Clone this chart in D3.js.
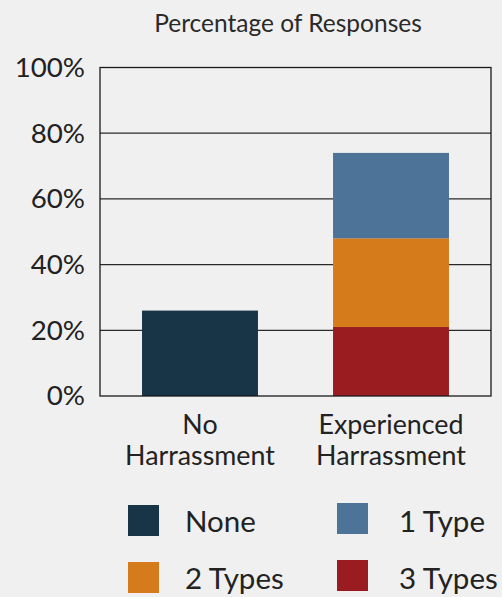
<!DOCTYPE html>
<html>
<head>
<meta charset="utf-8">
<script src="https://cdn.jsdelivr.net/npm/d3@7"></script>
<style>
  html, body { margin: 0; padding: 0; background: #f0f0f0; }
  svg { display: block; font-family: "Lato", "Open Sans", sans-serif; }
  svg text { font-weight: 400; }
</style>
</head>
<body>
<svg id="chart" width="502" height="597"></svg>
<script>
// Share of responses by harassment group (percent)
const categories = ["No Harrassment", "Experienced Harrassment"];
const categoryLines = [["No", "Harrassment"], ["Experienced", "Harrassment"]];
const seriesNames = ["None", "3 Types", "2 Types", "1 Type"];
const seriesValues = {
  "None":    [26, 0],
  "3 Types": [0, 21],
  "2 Types": [0, 27],
  "1 Type":  [0, 26]
};
const tickValues = [0, 20, 40, 60, 80, 100];
const tickLabels = ["0%", "20%", "40%", "60%", "80%", "100%"];
const legendOrder = ["None", "1 Type", "2 Types", "3 Types"];
const colors = {
  "None": "#183548",
  "1 Type": "#4e7398",
  "2 Types": "#d57b1c",
  "3 Types": "#9b1c20"
};

const svg = d3.select("#chart");
const plot = { left: 100, right: 491, top: 67.5, bottom: 396 };

const x = d3.scaleBand()
  .domain(categories)
  .range([plot.left, plot.right])
  .paddingInner(0.393)
  .paddingOuter(0.22);

const y = d3.scaleLinear()
  .domain([0, 100])
  .range([plot.bottom, plot.top]);

// Title
svg.append("text")
  .attr("x", 288)
  .attr("y", 31.5)
  .attr("text-anchor", "middle")
  .attr("font-size", 24.5)
  .attr("fill", "#2a2a2a")
  .text("Percentage of Responses");

// Gridlines
svg.append("g")
  .selectAll("line")
  .data(tickValues.filter(v => v > 0 && v < 100))
  .join("line")
  .attr("x1", plot.left).attr("x2", plot.right)
  .attr("y1", d => y(d)).attr("y2", d => y(d))
  .attr("stroke", "#2a2a2a")
  .attr("stroke-width", 1.3);

// Stacked bars
const table = categories.map((c, i) => {
  const row = { category: c };
  seriesNames.forEach(s => { row[s] = seriesValues[s][i]; });
  return row;
});
const stacked = d3.stack().keys(seriesNames)(table);

svg.append("g")
  .selectAll("g")
  .data(stacked)
  .join("g")
  .attr("fill", d => colors[d.key])
  .selectAll("rect")
  .data(d => d.filter(p => p[1] > p[0]))
  .join("rect")
  .attr("x", d => x(d.data.category))
  .attr("width", x.bandwidth())
  .attr("y", d => y(d[1]))
  .attr("height", d => y(d[0]) - y(d[1]));

// Plot frame
svg.append("rect")
  .attr("x", plot.left).attr("y", plot.top)
  .attr("width", plot.right - plot.left)
  .attr("height", plot.bottom - plot.top)
  .attr("fill", "none")
  .attr("stroke", "#1a1a1a")
  .attr("stroke-width", 1.3);

// Y axis labels
const yAxis = d3.axisLeft(y)
  .tickValues(tickValues)
  .tickFormat((d, i) => tickLabels[i])
  .tickSize(0)
  .tickPadding(15);
const gy = svg.append("g")
  .attr("transform", `translate(${plot.left},0)`)
  .call(yAxis);
gy.select(".domain").remove();
gy.selectAll("text")
  .attr("font-family", "Lato, sans-serif")
  .attr("font-size", 27.7)
  .attr("fill", "#222");

// Category labels
const cat = svg.append("g");
categories.forEach((c, i) => {
  const t = cat.append("text")
    .attr("x", x(c) + x.bandwidth() / 2)
    .attr("text-anchor", "middle")
    .attr("font-size", 26.8)
    .attr("fill", "#222");
  categoryLines[i].forEach((line, j) => {
    t.append("tspan")
      .attr("x", x(c) + x.bandwidth() / 2)
      .attr("y", 434 + j * 31)
      .text(line);
  });
});

// Legend (two columns, two rows)
const legendCol = d3.scaleOrdinal().domain([0, 1]).range([128, 337]);
const legendRow = d3.scaleOrdinal().domain([0, 1]).range([505, 562]);
const legend = svg.append("g")
  .selectAll("g")
  .data(legendOrder)
  .join("g")
  .attr("transform", (d, i) => {
    const col = i % 2;
    return `translate(${legendCol(col)},${legendRow(Math.floor(i / 2)) - col * 2})`;
  });
legend.append("rect")
  .attr("width", 31).attr("height", 31)
  .attr("fill", d => colors[d]);
legend.append("text")
  .attr("x", (d, i) => i % 2 === 0 ? 57 : 62)
  .attr("y", (d, i) => 27 + (i % 2) * 2)
  .attr("font-size", 29.5)
  .attr("fill", "#222")
  .text(d => d);
</script>
</body>
</html>
